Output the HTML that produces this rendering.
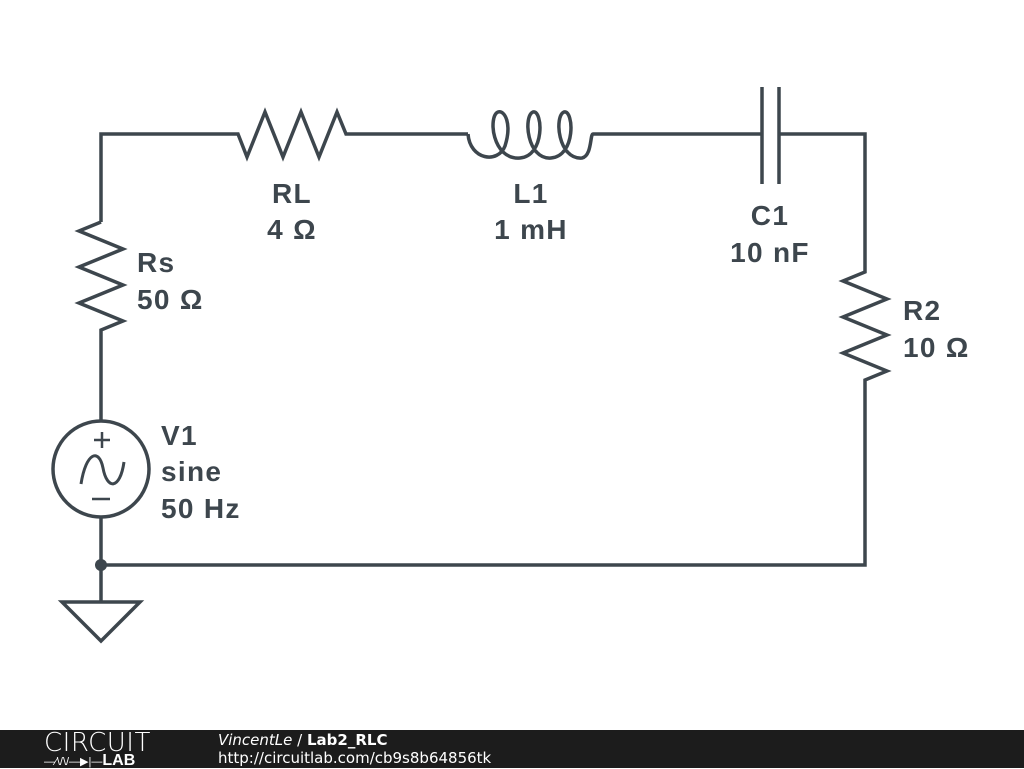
<!DOCTYPE html>
<html><head><meta charset="utf-8"><style>
body{margin:0;width:1024px;height:768px;background:#fff;overflow:hidden;position:relative;font-family:"Liberation Sans",sans-serif}
.l{position:absolute;font-weight:bold;font-size:28px;letter-spacing:1.3px;color:#3d464d;line-height:36px;white-space:nowrap}
.c{width:200px;text-align:center}
#ft{position:absolute;left:0;top:730px;width:1024px;height:38px;background:#1c1c1c;color:#fff}
</style></head><body>
<svg width="1024" height="768" style="position:absolute;left:0;top:0">
<g fill="none" stroke="#3d464d" stroke-width="3.5" stroke-linejoin="miter">
<path d="M101,222 V134 H238 L247,157 L265,112 L283,157 L301,112 L319,157 L337,112 L346,134 H468"/>
<path d="M468,134 C470,160 498,164 505,146 C512,124 505,110 498,112 C488,116 492,160 520,158 C545,156 543,110 533,112 C523,116 527,160 551,158 C576,156 574,110 564,112 C554,116 558,160 582,158 C592,156 590,134 593,134 H762"/>
<path d="M762,87 V184 M779,87 V184"/>
<path d="M779,134 H865 V272 L843,281 L887,299 L843,317 L887,335 L843,353 L887,371 L865,380 V565 H101"/>
<path d="M101,222 L79,231 L123,249 L79,267 L123,285 L79,303 L123,321 L101,330 V421"/>
<circle cx="101" cy="469" r="48"/>
<path d="M101,517 V602 M62,602 H140 L101,641 Z"/>
<path d="M94,440 H110 M102,432 V448 M92,499 H110" stroke-width="2.5"/>
<path d="M81,484 C86,452 99,448 103,468 C107,490 120,490 124,462" stroke-width="3"/>
</g>
<circle cx="101" cy="565" r="6" fill="#3d464d"/>
</svg>
<div class="l c" style="left:192px;top:176px">RL</div>
<div class="l c" style="left:192px;top:212px">4 Ω</div>
<div class="l c" style="left:431px;top:176px">L1</div>
<div class="l c" style="left:431px;top:212px">1 mH</div>
<div class="l c" style="left:670px;top:198px">C1</div>
<div class="l c" style="left:670px;top:235px">10 nF</div>
<div class="l" style="left:903px;top:293px">R2</div>
<div class="l" style="left:903px;top:330px">10 Ω</div>
<div class="l" style="left:137px;top:245px">Rs</div>
<div class="l" style="left:137px;top:282px">50 Ω</div>
<div class="l" style="left:161px;top:418px">V1</div>
<div class="l" style="left:161px;top:454px">sine</div>
<div class="l" style="left:161px;top:491px">50 Hz</div>
<div id="ft">
<div style="position:absolute;left:44px;top:1px;font-size:26px;letter-spacing:0.5px;line-height:24px;font-family:'DejaVu Sans',sans-serif;font-weight:200">CIRCUIT</div>
<div style="position:absolute;left:44px;top:24px;font-size:11px;line-height:13px;width:140px;white-space:nowrap"><span>—⁄\/\/—▶|—</span><b style="font-size:16px">LAB</b></div>
<div style="position:absolute;left:218px;top:1px;font-size:15px;line-height:18px;font-family:'DejaVu Sans',sans-serif"><i>VincentLe</i> / <b>Lab2_RLC</b></div>
<div style="position:absolute;left:218px;top:19px;font-size:15px;line-height:18px;font-family:'DejaVu Sans',sans-serif">http://circuitlab.com/cb9s8b64856tk</div>
</div>
</body></html>
